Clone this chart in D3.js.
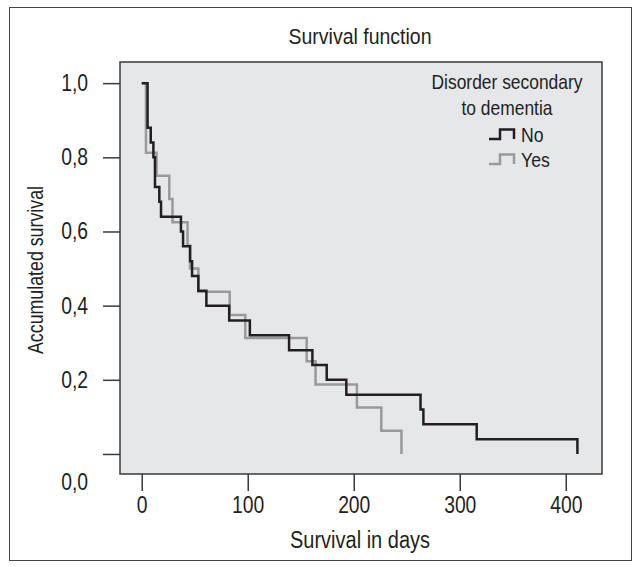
<!DOCTYPE html>
<html>
<head>
<meta charset="utf-8">
<script src="https://cdn.jsdelivr.net/npm/d3@7"></script>
<style>
  body { margin: 0; background: #fff; }
  svg text { font-family: "Liberation Sans Narrow", "Arial Narrow", "Liberation Sans", sans-serif; fill: #231f20; }
</style>
</head>
<body>
<div id="container"></div>
<script>
// Kaplan-Meier steps (time in days, survival after the step)
const noTimes = [0, 5.5, 8.5, 11, 12.5, 16.6, 18.2, 37, 39, 45.6, 47.5, 53.4, 61, 82.5, 102, 139, 161, 174.5, 193, 263, 265.7, 316, 411];
const noSurv  = [1, 0.88, 0.84, 0.80, 0.72, 0.68, 0.64, 0.60, 0.56, 0.52, 0.48, 0.44, 0.40, 0.36, 0.32, 0.28, 0.24, 0.20, 0.16, 0.12, 0.08, 0.04, 0];
const yesTimes = [0, 4, 14, 26, 29, 43.2, 45.6, 53.4, 83, 97.7, 155.6, 164, 203, 226, 245];
const yesSurv  = [1, 0.8125, 0.75, 0.6875, 0.625, 0.5625, 0.5, 0.4375, 0.375, 0.3125, 0.25, 0.1875, 0.125, 0.0625, 0];

const xTicks = [0, 100, 200, 300, 400];
const yTicks = [0, 0.2, 0.4, 0.6, 0.8, 1.0];
const groups = ["No", "Yes"];

const width = 640;
const height = 567;
const box = { left: 120, top: 62, right: 602, bottom: 474 };

const x = d3.scaleLinear()
    .domain([-20.5, 434.2])
    .range([box.left, box.right]);
const y = d3.scaleLinear()
    .domain([-0.054, 1.057])
    .range([box.bottom, box.top]);

const svg = d3.select("#container").append("svg")
    .attr("width", width)
    .attr("height", height);

// no narrow font installed: squeeze the text horizontally instead
function squeeze(sel, k) {
  sel.each(function() {
    const w = this.getComputedTextLength();
    d3.select(this)
      .attr("textLength", w * k)
      .attr("lengthAdjust", "spacingAndGlyphs");
  });
}

// outer frame
svg.append("rect")
    .attr("x", 9.5).attr("y", 7.5)
    .attr("width", 622).attr("height", 553)
    .attr("fill", "none")
    .attr("stroke", "#444")
    .attr("stroke-width", 1);

// plot area
svg.append("rect")
    .attr("x", box.left).attr("y", box.top)
    .attr("width", box.right - box.left)
    .attr("height", box.bottom - box.top)
    .attr("fill", "#e6e7e9")
    .attr("stroke", "#3a3a3a")
    .attr("stroke-width", 1.5);

const comma = d => d3.format(".1f")(d).replace(".", ",");

const xAxis = svg.append("g")
    .attr("transform", "translate(0," + box.bottom + ")")
    .call(d3.axisBottom(x).tickValues(xTicks).tickSize(17).tickPadding(6).tickFormat(d3.format("d")));

const yAxis = svg.append("g")
    .attr("transform", "translate(" + box.left + ",0)")
    .call(d3.axisLeft(y).tickValues(yTicks).tickSize(17).tickPadding(15).tickFormat(comma));

[xAxis, yAxis].forEach(function(g) {
  g.select(".domain").remove();
  g.selectAll("line").attr("stroke", "#3a3a3a").attr("stroke-width", 1.5);
  g.selectAll("text").attr("font-size", 23).attr("fill", "#231f20")
    .style("font-family", "'Liberation Sans Narrow', 'Arial Narrow', 'Liberation Sans', sans-serif")
    .call(squeeze, 0.84);
});
// the 0,0 label sits below its tick in the original
yAxis.selectAll(".tick")
  .filter(d => d === 0)
  .select("text")
  .attr("dy", "1.55em");

const line = d3.line()
    .curve(d3.curveStepAfter)
    .x(d => x(d[0]))
    .y(d => y(d[1]));

const series = [
  { name: "Yes", pts: d3.zip(yesTimes, yesSurv), color: "#9a9a9a" },
  { name: "No",  pts: d3.zip(noTimes, noSurv),   color: "#231f20" }
];

svg.selectAll("path.km")
  .data(series)
  .enter().append("path")
  .attr("class", "km")
  .attr("d", d => line(d.pts))
  .attr("fill", "none")
  .attr("stroke", d => d.color)
  .attr("stroke-width", 2.5);

// titles
svg.append("text")
    .attr("x", 360).attr("y", 44)
    .attr("text-anchor", "middle")
    .attr("font-size", 22)
    .attr("textLength", 143).attr("lengthAdjust", "spacingAndGlyphs")
    .text("Survival function");

svg.append("text")
    .attr("x", 360).attr("y", 548)
    .attr("text-anchor", "middle")
    .attr("font-size", 23)
    .attr("textLength", 140).attr("lengthAdjust", "spacingAndGlyphs")
    .text("Survival in days");

svg.append("text")
    .attr("transform", "translate(43,270) rotate(-90)")
    .attr("text-anchor", "middle")
    .attr("font-size", 22)
    .attr("textLength", 168).attr("lengthAdjust", "spacingAndGlyphs")
    .text("Accumulated survival");

// legend
const legend = svg.append("g");
legend.append("text")
    .attr("x", 507).attr("y", 89)
    .attr("text-anchor", "middle")
    .attr("font-size", 21)
    .attr("textLength", 151).attr("lengthAdjust", "spacingAndGlyphs")
    .text("Disorder secondary");
legend.append("text")
    .attr("x", 507).attr("y", 115)
    .attr("text-anchor", "middle")
    .attr("font-size", 21)
    .attr("textLength", 91).attr("lengthAdjust", "spacingAndGlyphs")
    .text("to dementia");

const legColor = { No: "#231f20", Yes: "#9a9a9a" };
legend.selectAll("g.item")
  .data(groups)
  .enter().append("g")
  .attr("class", "item")
  .attr("transform", (d, i) => "translate(0," + (134 + i * 25) + ")")
  .each(function(d) {
    const g = d3.select(this);
    g.append("path")
      .attr("d", "M489,5H500V-4.5H514V5")
      .attr("fill", "none")
      .attr("stroke", legColor[d])
      .attr("stroke-width", 2.5);
    g.append("text")
      .attr("x", 521)
      .attr("y", 7.5)
      .attr("font-size", 21)
      .text(d)
      .call(squeeze, 0.84);
  });
</script>
</body>
</html>
